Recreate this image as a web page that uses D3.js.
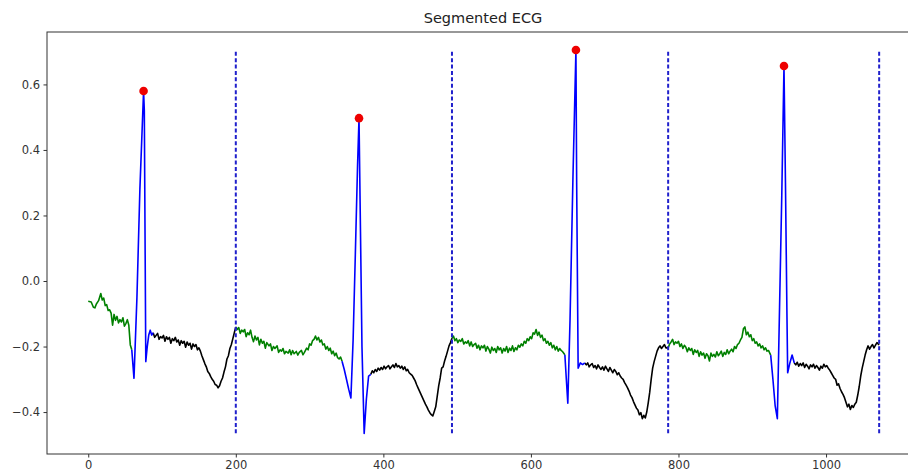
<!DOCTYPE html>
<html>
<head>
<meta charset="utf-8">
<script src="https://cdn.jsdelivr.net/npm/d3@7"></script>
<style>
  body { margin: 0; background: #fff; }
  svg text { font-family: 'DejaVu Sans', sans-serif; }
</style>
</head>
<body>
<svg id="chart" width="908" height="474"></svg>
<script>
// segment boundaries (dashed lines)
const boundaries = [200, 493, 786, 1072];

// R peaks
const peakX = [75, 367, 661, 943];
const peakY = [0.58, 0.497, 0.705, 0.656];

// pre-QRS (green) pieces, [sample, mV]
const green1 = [[0,-0.062],[4,-0.064],[7,-0.080],[9,-0.082],[11,-0.070],[14,-0.060],[17,-0.038],[19,-0.058],[21,-0.052],[23,-0.075],[25,-0.072],[27,-0.090],[29,-0.088],[31,-0.098],[33,-0.135],[35,-0.102],[37,-0.120],[39,-0.108],[41,-0.128],[43,-0.118],[45,-0.125],[47,-0.112],[49,-0.138],[51,-0.130],[53,-0.118],[55,-0.135],[57,-0.195],[59,-0.21]];
const green2 = [[200,-0.140],[202,-0.148],[204,-0.142],[206,-0.160],[208,-0.150],[210,-0.155],[212,-0.148],[214,-0.170],[216,-0.158],[218,-0.164],[220,-0.150],[222,-0.172],[224,-0.185],[226,-0.168],[228,-0.180],[230,-0.172],[232,-0.195],[234,-0.178],[236,-0.190],[238,-0.184],[240,-0.205],[242,-0.188],[245,-0.198],[247,-0.192],[249,-0.212],[251,-0.200],[253,-0.206],[256,-0.198],[258,-0.218],[260,-0.210],[262,-0.214],[264,-0.206],[266,-0.222],[268,-0.215],[271,-0.220],[273,-0.210],[275,-0.225],[277,-0.212],[279,-0.222],[282,-0.215],[284,-0.226],[286,-0.218],[289,-0.212],[291,-0.225],[293,-0.218],[296,-0.205],[298,-0.210],[300,-0.192],[302,-0.196],[304,-0.182],[306,-0.178],[308,-0.168],[310,-0.180],[312,-0.172],[314,-0.186],[316,-0.180],[318,-0.195],[320,-0.192],[322,-0.208],[324,-0.200],[326,-0.212],[328,-0.205],[330,-0.222],[332,-0.214],[334,-0.228],[336,-0.220],[338,-0.234],[340,-0.238],[342,-0.232],[344,-0.245]];
const green3 = [[493,-0.175],[495,-0.168],[497,-0.182],[499,-0.176],[501,-0.188],[503,-0.180],[505,-0.184],[507,-0.176],[509,-0.192],[511,-0.186],[513,-0.190],[515,-0.182],[517,-0.198],[519,-0.186],[521,-0.200],[523,-0.194],[525,-0.190],[527,-0.205],[529,-0.196],[531,-0.210],[533,-0.198],[535,-0.204],[537,-0.196],[539,-0.214],[541,-0.200],[543,-0.208],[545,-0.220],[547,-0.202],[549,-0.212],[551,-0.206],[553,-0.218],[555,-0.200],[557,-0.210],[559,-0.204],[561,-0.220],[563,-0.206],[565,-0.214],[567,-0.200],[569,-0.218],[571,-0.205],[573,-0.212],[575,-0.198],[577,-0.215],[579,-0.204],[581,-0.210],[583,-0.196],[585,-0.202],[587,-0.192],[589,-0.198],[591,-0.184],[593,-0.190],[595,-0.176],[597,-0.182],[599,-0.170],[601,-0.176],[603,-0.158],[605,-0.162],[607,-0.148],[609,-0.166],[611,-0.156],[613,-0.172],[615,-0.165],[617,-0.182],[619,-0.176],[621,-0.190],[623,-0.184],[625,-0.196],[627,-0.188],[629,-0.204],[631,-0.196],[633,-0.210],[635,-0.200],[637,-0.214],[639,-0.206],[641,-0.212],[643,-0.216],[646,-0.225]];
const green4 = [[786,-0.204],[788,-0.192],[790,-0.186],[792,-0.178],[794,-0.194],[796,-0.186],[798,-0.190],[800,-0.184],[802,-0.200],[804,-0.192],[806,-0.206],[808,-0.196],[810,-0.202],[812,-0.216],[814,-0.204],[816,-0.212],[818,-0.206],[820,-0.224],[822,-0.210],[824,-0.218],[826,-0.212],[828,-0.230],[830,-0.216],[832,-0.226],[834,-0.220],[836,-0.236],[838,-0.222],[840,-0.228],[842,-0.244],[844,-0.220],[846,-0.230],[848,-0.224],[850,-0.232],[852,-0.216],[854,-0.228],[856,-0.222],[858,-0.214],[860,-0.230],[862,-0.218],[864,-0.224],[866,-0.210],[868,-0.222],[870,-0.214],[872,-0.208],[874,-0.216],[876,-0.200],[878,-0.206],[880,-0.194],[882,-0.190],[884,-0.180],[886,-0.172],[888,-0.146],[890,-0.140],[892,-0.164],[894,-0.156],[896,-0.170],[898,-0.164],[900,-0.182],[902,-0.176],[904,-0.190],[906,-0.186],[908,-0.198],[910,-0.192],[912,-0.204],[914,-0.198],[916,-0.210],[918,-0.204],[920,-0.214],[922,-0.212],[925,-0.226]];

// QRS (blue) pieces
const blue1 = [[59,-0.21],[62,-0.297],[66,-0.05],[70,0.28],[75,0.58],[76,0.52],[78,-0.246],[80,-0.20],[82,-0.165],[84,-0.15],[86,-0.165],[88,-0.158]];
const blue2 = [[344,-0.245],[347,-0.27],[350,-0.30],[353,-0.33],[356,-0.357],[359,-0.18],[362,0.08],[365,0.35],[367,0.497],[369,0.15],[371,-0.2],[374,-0.465],[377,-0.36],[380,-0.29],[383,-0.285]];
const blue3 = [[646,-0.225],[648,-0.30],[650,-0.373],[653,-0.12],[657,0.32],[661,0.705],[662,0.30],[664,-0.266],[667,-0.25],[670,-0.255],[673,-0.25]];
const blue4 = [[925,-0.226],[928,-0.30],[931,-0.38],[934,-0.42],[937,-0.08],[940,0.26],[943,0.656],[945,0.30],[947,-0.10],[948,-0.28],[951,-0.25],[954,-0.226],[957,-0.25]];

// post-QRS (black) pieces
const black1 = [[88,-0.158],[90,-0.172],[92,-0.166],[94,-0.160],[96,-0.178],[98,-0.170],[100,-0.174],[102,-0.166],[104,-0.184],[106,-0.170],[108,-0.178],[110,-0.172],[112,-0.190],[114,-0.176],[116,-0.182],[118,-0.172],[120,-0.186],[122,-0.180],[124,-0.196],[126,-0.182],[128,-0.190],[130,-0.184],[132,-0.202],[134,-0.186],[136,-0.196],[138,-0.190],[140,-0.208],[142,-0.192],[144,-0.200],[146,-0.194],[148,-0.210],[150,-0.204],[152,-0.214],[154,-0.228],[156,-0.240],[158,-0.252],[160,-0.262],[162,-0.276],[164,-0.282],[166,-0.292],[168,-0.300],[170,-0.306],[172,-0.316],[174,-0.318],[176,-0.326],[178,-0.320],[180,-0.306],[182,-0.296],[184,-0.278],[186,-0.262],[188,-0.238],[190,-0.228],[192,-0.206],[194,-0.194],[196,-0.176],[198,-0.158],[200,-0.140]];
const black2 = [[383,-0.285],[385,-0.274],[387,-0.280],[389,-0.270],[391,-0.276],[393,-0.266],[395,-0.272],[397,-0.264],[399,-0.270],[401,-0.260],[403,-0.268],[405,-0.262],[407,-0.258],[409,-0.268],[411,-0.262],[413,-0.256],[415,-0.264],[417,-0.252],[419,-0.262],[421,-0.258],[423,-0.266],[425,-0.260],[427,-0.270],[429,-0.262],[431,-0.274],[433,-0.270],[435,-0.280],[437,-0.284],[439,-0.288],[441,-0.296],[443,-0.304],[445,-0.316],[447,-0.326],[449,-0.336],[451,-0.346],[453,-0.356],[455,-0.366],[457,-0.376],[459,-0.384],[461,-0.394],[463,-0.402],[465,-0.408],[467,-0.412],[469,-0.398],[471,-0.384],[473,-0.352],[475,-0.320],[477,-0.296],[479,-0.266],[481,-0.262],[483,-0.244],[485,-0.230],[487,-0.214],[489,-0.198],[491,-0.188],[493,-0.175]];
const black3 = [[673,-0.25],[675,-0.256],[677,-0.250],[679,-0.262],[681,-0.256],[683,-0.252],[685,-0.264],[687,-0.258],[689,-0.268],[691,-0.256],[693,-0.264],[695,-0.270],[697,-0.262],[699,-0.272],[701,-0.260],[703,-0.268],[705,-0.276],[707,-0.264],[709,-0.272],[711,-0.280],[713,-0.270],[715,-0.276],[717,-0.286],[719,-0.280],[721,-0.290],[723,-0.296],[725,-0.300],[727,-0.310],[729,-0.318],[731,-0.326],[733,-0.336],[735,-0.348],[737,-0.356],[739,-0.368],[741,-0.378],[743,-0.388],[745,-0.394],[747,-0.408],[749,-0.402],[751,-0.420],[753,-0.410],[755,-0.418],[757,-0.400],[759,-0.372],[761,-0.340],[763,-0.300],[765,-0.266],[767,-0.246],[769,-0.230],[771,-0.214],[773,-0.204],[775,-0.198],[777,-0.206],[779,-0.200],[781,-0.194],[783,-0.204],[786,-0.204]];
const black4 = [[957,-0.25],[959,-0.256],[961,-0.248],[963,-0.260],[965,-0.252],[967,-0.258],[969,-0.250],[971,-0.264],[973,-0.254],[975,-0.260],[977,-0.268],[979,-0.256],[981,-0.262],[983,-0.254],[985,-0.266],[987,-0.258],[989,-0.264],[991,-0.272],[993,-0.260],[995,-0.266],[997,-0.254],[999,-0.262],[1001,-0.258],[1003,-0.266],[1005,-0.272],[1007,-0.280],[1009,-0.288],[1011,-0.296],[1013,-0.300],[1015,-0.318],[1017,-0.314],[1019,-0.328],[1021,-0.338],[1023,-0.346],[1025,-0.356],[1027,-0.370],[1029,-0.384],[1031,-0.376],[1033,-0.392],[1035,-0.380],[1037,-0.386],[1039,-0.376],[1041,-0.370],[1043,-0.348],[1045,-0.322],[1047,-0.290],[1049,-0.266],[1051,-0.246],[1053,-0.226],[1055,-0.210],[1057,-0.198],[1059,-0.208],[1061,-0.200],[1063,-0.194],[1065,-0.204],[1067,-0.196],[1069,-0.188],[1072,-0.195]];

const xTicks = [0, 200, 400, 600, 800, 1000];
const yTicks = [-0.4, -0.2, 0.0, 0.2, 0.4, 0.6];

const svg = d3.select('#chart');

// plot area (right side is cut off by the 908px window, like the original)
const padLeft = 47, padRight = 919, padTop = 32, padBottom = 454;

const xScale = d3.scaleLinear().domain([-55.9, 1126]).range([padLeft, padRight]);
const yScale = d3.scaleLinear().domain([-0.528, 0.760]).range([padBottom, padTop]);

svg.append('rect').attr('width', 908).attr('height', 474).attr('fill', '#fff');

const line = d3.line().x((d) => xScale(d[0])).y((d) => yScale(d[1]));

const plot = svg.append('g');

const segments = [
  { color: '#008000', pieces: [green1, green2, green3, green4] },
  { color: '#000000', pieces: [black1, black2, black3, black4] },
  { color: '#0000ff', pieces: [blue1, blue2, blue3, blue4] },
];

segments.forEach((s) => {
  plot.append('g')
    .selectAll('path')
    .data(s.pieces)
    .join('path')
    .attr('d', line)
    .attr('fill', 'none')
    .attr('stroke', s.color)
    .attr('stroke-width', 1.6)
    .attr('stroke-linejoin', 'round');
});

// dashed lines span the signal's min..max
const allPts = [green1, green2, green3, green4, blue1, blue2, blue3, blue4, black1, black2, black3, black4].flat();
const sigMin = d3.min(allPts, (d) => d[1]);
const sigMax = d3.max(allPts, (d) => d[1]);

plot.append('g')
  .selectAll('line')
  .data(boundaries)
  .join('line')
  .attr('x1', (d) => xScale(d))
  .attr('x2', (d) => xScale(d))
  .attr('y1', yScale(sigMin))
  .attr('y2', yScale(sigMax))
  .attr('stroke', '#2020cc')
  .attr('stroke-width', 2)
  .attr('stroke-dasharray', '4,2.4');

plot.append('g')
  .selectAll('circle')
  .data(peakX)
  .join('circle')
  .attr('cx', (d) => xScale(d))
  .attr('cy', (d, i) => yScale(peakY[i]))
  .attr('r', 4.3)
  .attr('fill', '#ee0000');

// frame
svg.append('rect')
  .attr('x', padLeft).attr('y', padTop)
  .attr('width', padRight - padLeft).attr('height', padBottom - padTop)
  .attr('fill', 'none')
  .attr('stroke', '#333')
  .attr('stroke-width', 1);

const fmt = (v) => d3.format('.1f')(v).replace('-', '\u2212');

svg.append('g')
  .attr('transform', `translate(0,${padBottom})`)
  .call(d3.axisBottom(xScale).tickValues(xTicks).tickSize(3.5).tickPadding(3.5).tickFormat(d3.format('d')))
  .call((g) => g.select('.domain').remove())
  .call((g) => g.selectAll('line').attr('stroke', '#333'))
  .call((g) => g.selectAll('text').attr('fill', '#333').style('font-size', '11.5px').style('font-family', 'DejaVu Sans'));

svg.append('g')
  .attr('transform', `translate(${padLeft},0)`)
  .call(d3.axisLeft(yScale).tickValues(yTicks).tickSize(3.5).tickPadding(3.5).tickFormat(fmt))
  .call((g) => g.select('.domain').remove())
  .call((g) => g.selectAll('line').attr('stroke', '#333'))
  .call((g) => g.selectAll('text').attr('fill', '#333').style('font-size', '11.5px').style('font-family', 'DejaVu Sans'));

svg.append('text')
  .attr('x', (padLeft + padRight) / 2)
  .attr('y', 23)
  .attr('text-anchor', 'middle')
  .style('font-size', '14.5px')
  .attr('fill', '#222')
  .text('Segmented ECG');
</script>
</body>
</html>
